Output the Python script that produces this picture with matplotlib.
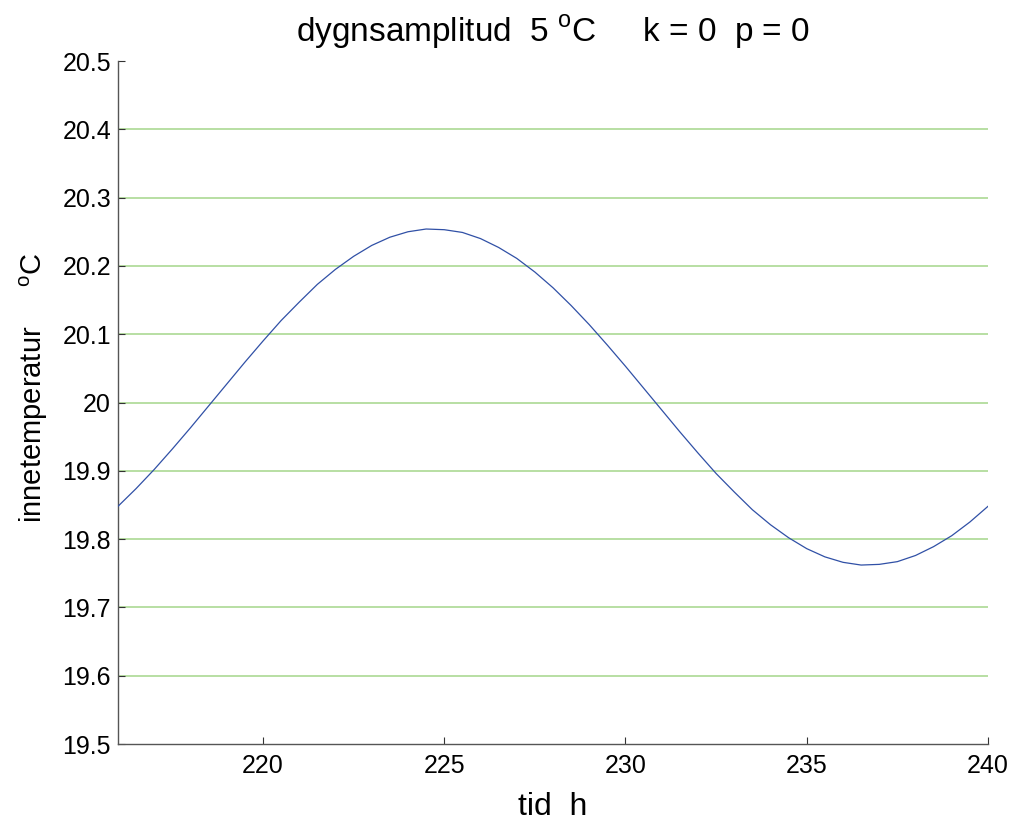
import matplotlib
matplotlib.use("Agg")
import matplotlib.pyplot as plt

# data (half-hourly)
tid_h = [216, 216.5, 217, 217.5, 218, 218.5, 219, 219.5, 220, 220.5, 221, 221.5,
         222, 222.5, 223, 223.5, 224, 224.5, 225, 225.5, 226, 226.5, 227, 227.5,
         228, 228.5, 229, 229.5, 230, 230.5, 231, 231.5, 232, 232.5, 233, 233.5,
         234, 234.5, 235, 235.5, 236, 236.5, 237, 237.5, 238, 238.5, 239, 239.5,
         240]
innetemp = [19.848, 19.874, 19.902, 19.932, 19.963, 19.995, 20.027, 20.059,
            20.090, 20.120, 20.147, 20.173, 20.195, 20.214, 20.230, 20.242,
            20.250, 20.254, 20.253, 20.249, 20.240, 20.227, 20.211, 20.191,
            20.168, 20.142, 20.114, 20.084, 20.053, 20.021, 19.989, 19.957,
            19.926, 19.896, 19.869, 19.843, 19.821, 19.802, 19.786, 19.774,
            19.766, 19.762, 19.763, 19.767, 19.776, 19.789, 19.805, 19.825,
            19.848]
xticks = [220, 225, 230, 235, 240]
yticks = [19.5, 19.6, 19.7, 19.8, 19.9, 20.0, 20.1, 20.2, 20.3, 20.4, 20.5]
ytick_labels = ["19.5", "19.6", "19.7", "19.8", "19.9", "20", "20.1", "20.2",
                "20.3", "20.4", "20.5"]
grid_levels = [19.6, 19.7, 19.8, 19.9, 20.0, 20.1, 20.2, 20.3, 20.4]

plt.rcParams['font.family'] = ['Liberation Sans', 'DejaVu Sans']
plt.rcParams['mathtext.fontset'] = 'custom'
plt.rcParams['mathtext.rm'] = 'Liberation Sans'

fig = plt.figure(figsize=(10.13, 8.21), dpi=100)
ax = fig.add_axes([118/1013, 77/821, 870/1013, 683/821])

for g in grid_levels:
    ax.axhline(g, color='#b2dc9c', lw=1.3, zorder=1)

ax.plot(tid_h, innetemp, color='#3050a6', lw=0.9, zorder=3)

ax.set_xlim(216, 240)
ax.set_ylim(19.5, 20.5)
ax.set_xticks(xticks)
ax.set_yticks(yticks)
ax.set_yticklabels(ytick_labels)
ax.tick_params(direction='in', length=5, width=0.8, labelsize=18,
               colors='#333333', labelcolor='black')
ax.tick_params(axis='y', pad=5)
ax.tick_params(axis='x', pad=7)
for s in ['top', 'right']:
    ax.spines[s].set_visible(False)
for s in ['left', 'bottom']:
    ax.spines[s].set_color('#555555')
    ax.spines[s].set_linewidth(1.0)

ax.set_title(r'dygnsamplitud  5 $^{\mathrm{o}}$C     k = 0  p = 0', fontsize=24, pad=14)
ax.set_xlabel('tid  h', fontsize=23, labelpad=10)
ax.set_ylabel(r'innetemperatur     $^{\mathrm{o}}$C', fontsize=21)
ax.yaxis.set_label_coords(-0.078, 0.522)

fig.savefig('out.png', dpi=100)
